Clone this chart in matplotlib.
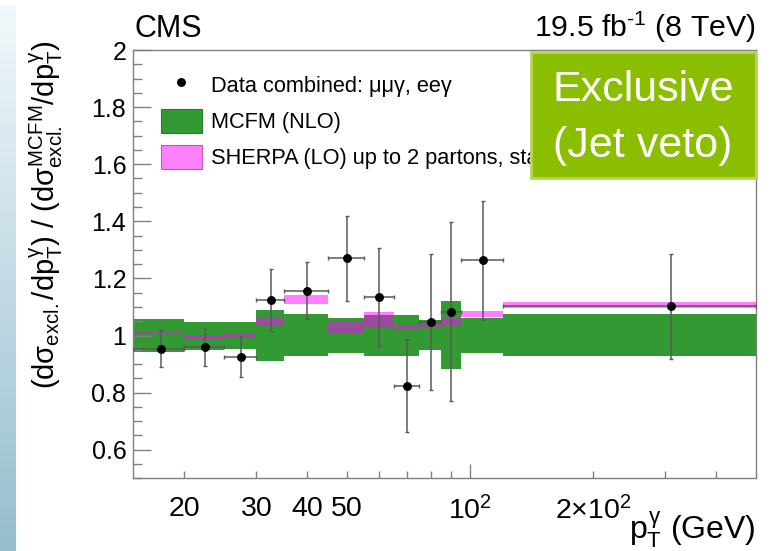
import numpy as np
import matplotlib
matplotlib.use("Agg")
import matplotlib.pyplot as plt
import matplotlib.ticker as mticker
from matplotlib.patches import Patch, Rectangle
from matplotlib.lines import Line2D

# photon pT binning (GeV)
bin_edges = [15, 20, 25, 30, 35, 45, 55, 65, 75, 85, 95, 120, 500]
pt_centers = [17.5, 22.5, 27.5, 32.5, 40, 50, 60, 70, 80, 90, 107.5, 310]

# measured ratio data / MCFM and its uncertainty
data_ratio = [0.954, 0.959, 0.926, 1.124, 1.157, 1.271, 1.135, 0.824, 1.046, 1.083, 1.264, 1.103]
data_err = [0.064, 0.064, 0.071, 0.108, 0.099, 0.149, 0.170, 0.163, 0.238, 0.314, 0.208, 0.184]

# MCFM (NLO) uncertainty band, normalised to its central value
mcfm_lo = [0.943, 0.949, 0.952, 0.912, 0.927, 0.939, 0.929, 0.929, 0.948, 0.882, 0.940, 0.927]
mcfm_hi = [1.058, 1.049, 1.048, 1.089, 1.074, 1.061, 1.071, 1.072, 1.054, 1.121, 1.062, 1.074]

# SHERPA (LO) band, stat error only
sherpa_lo = [1.005, 0.988, 0.990, 1.033, 1.109, 1.009, 1.027, 1.022, 1.027, 1.037, 1.065, 1.097]
sherpa_hi = [1.013, 1.001, 1.009, 1.060, 1.141, 1.048, 1.081, 1.035, 1.044, 1.060, 1.086, 1.118]

plt.rcParams["font.family"] = ["Liberation Sans", "DejaVu Sans"]
plt.rcParams["mathtext.fontset"] = "custom"
plt.rcParams["mathtext.rm"] = "Liberation Sans"
plt.rcParams["mathtext.it"] = "Liberation Sans"
plt.rcParams["mathtext.bf"] = "Liberation Sans:bold"

W, H = 775, 551
fig = plt.figure(figsize=(W / 100, H / 100), dpi=100)

# slide-edge strip on the left
strip = fig.add_axes([0, 0, 16 / W, 546 / H])
top_c = np.array([242, 248, 251]) / 255
bot_c = np.array([150, 190, 207]) / 255
t = np.linspace(0, 1, 256)[:, None]
grad = (1 - t) * top_c + t * bot_c
strip.imshow(grad[:, None, :], aspect="auto", extent=[0, 1, 0, 1])
strip.set_axis_off()

x0, x1, y0, y1 = 133.3, 756.0, 50.0, 478.3
ax = fig.add_axes([x0 / W, 1 - y1 / H, (x1 - x0) / W, (y1 - y0) / H])

edges = np.array(bin_edges, dtype=float)
left = edges[:-1]
widths = np.diff(edges)
mlo, mhi = np.array(mcfm_lo), np.array(mcfm_hi)
slo, shi = np.array(sherpa_lo), np.array(sherpa_hi)

ax.bar(left, mhi - mlo, bottom=mlo, width=widths, align="edge",
       color="#339933", edgecolor="none", zorder=1)
ax.bar(left, shi - slo, bottom=slo, width=widths, align="edge",
       color="#ff00ff", alpha=0.5, edgecolor="none", zorder=2)

c = np.array(pt_centers)
xerr = [c - edges[:-1], edges[1:] - c]
ax.errorbar(c, data_ratio, yerr=data_err, xerr=xerr, fmt="o", color="black",
            ms=5.4, ecolor="#5a5a5a", elinewidth=1.1, capsize=1.5,
            capthick=1.0, zorder=3)

ax.set_xscale("log")
ax.set_xlim(15, 500)
ax.set_ylim(0.5, 2.0)

ax.yaxis.set_major_locator(mticker.MultipleLocator(0.2))
ax.yaxis.set_minor_locator(mticker.MultipleLocator(0.05))
ax.yaxis.set_major_formatter(mticker.FuncFormatter(lambda v, p: f"{v:g}"))

ax.xaxis.set_major_locator(mticker.FixedLocator([100]))
ax.xaxis.set_major_formatter(mticker.FixedFormatter([r"$10^{2}$"]))
ax.xaxis.set_minor_locator(mticker.FixedLocator([20, 30, 40, 50, 60, 70, 80, 90, 200, 300, 400]))
ax.xaxis.set_minor_formatter(mticker.FixedFormatter(
    ["20", "30", "40", "50", "", "", "", "", r"$2{\times}10^{2}$", "", ""]))

frame = "#808080"
for s in ax.spines.values():
    s.set_color(frame)
    s.set_linewidth(1.0)
ax.tick_params(axis="x", which="major", direction="in", length=10, width=1,
               color=frame, labelsize=20.5, pad=13)
ax.tick_params(axis="x", which="minor", direction="in", length=5, width=1,
               color=frame, labelsize=20.5, pad=13)
ax.tick_params(axis="y", which="major", direction="in", length=13, width=1,
               color=frame, labelsize=18, pad=5)
ax.tick_params(axis="y", which="minor", direction="in", length=6.5, width=1,
               color=frame)

handles = [
    Line2D([], [], marker="o", color="black", ls="none", ms=5.4),
    Patch(facecolor="#339933", edgecolor="#2a7a2a", lw=0.8),
    Patch(facecolor="#ff80ff", edgecolor="#b060b0", lw=0.8),
]
labels = [
    "Data combined: μμγ, eeγ",
    "MCFM (NLO)",
    "SHERPA (LO) up to 2 partons, stat error only",
]
ax.legend(handles, labels, loc="upper left",
          bbox_to_anchor=(160.7 / W, 1 - 72.2 / H), bbox_transform=fig.transFigure,
          frameon=False, fontsize=15.7, handlelength=1.9, handleheight=1.33,
          handletextpad=0.4, labelspacing=0.55, borderpad=0, borderaxespad=0)

# selection label box, drawn over the end of the legend
bx0, bx1, by0, by1 = 531, 755.7, 51.7, 178.3
fig.add_artist(Rectangle((bx0 / W, 1 - by1 / H), (bx1 - bx0) / W, (by1 - by0) / H,
                         transform=fig.transFigure, facecolor="#8cbe00",
                         edgecolor="#b5d65a", lw=2, zorder=4))
fig.text(643 / W, 1 - 90 / H, "Exclusive", ha="center", va="center",
         fontsize=31, color="white", zorder=5)
fig.text(643 / W, 1 - 145.8 / H, "(Jet veto)", ha="center", va="center",
         fontsize=31, color="white", zorder=5)

fig.text(134 / W, 1 - 36.7 / H, "CMS", fontsize=22, va="baseline")
fig.text(756 / W, 1 - 36.7 / H, "19.5 fb$^{\u2010 1}$ (8 TeV)", fontsize=21.8,
         ha="right", va="baseline")

fig.text(756 / W, 1 - 539.3 / H, r"$p_{T}^{\gamma}$ (GeV)", fontsize=23,
         ha="right", va="baseline")
fig.text(46 / W, 1 - 40 / H,
         r"$(d\sigma_{\rm excl.}/dp_{T}^{\gamma})$ / $(d\sigma_{\rm excl.}^{\rm MCFM}/dp_{T}^{\gamma})$",
         rotation=90, ha="center", va="top", fontsize=21)

fig.savefig("out.png", dpi=100)
